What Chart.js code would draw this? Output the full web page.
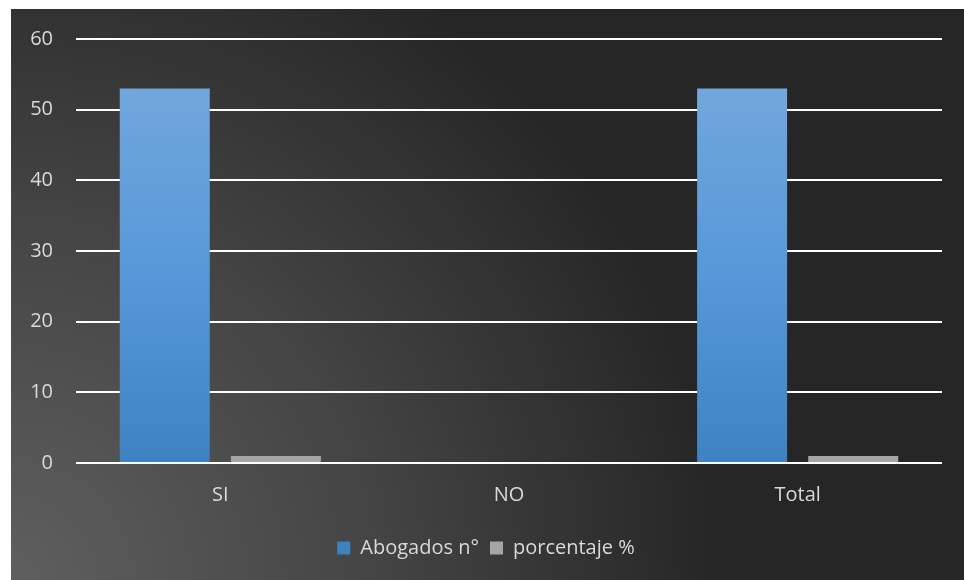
<!DOCTYPE html>
<html lang="es">
<head>
  <meta charset="UTF-8" />
  <title>Abogados</title>
  <script src="https://cdn.jsdelivr.net/npm/chart.js"></script>
  <style>
    html, body {
      margin: 0;
      padding: 0;
      background: #fff;
    }
    #chart-container {
      position: absolute;
      left: 11px;
      top: 9px;
      width: 953px;
      height: 571px;
      background: radial-gradient(circle at 0% 100%, #5f5f5f 0%, #454545 32%, #262626 64%);
    }
  </style>
</head>
<body>
  <div id="chart-container">
    <canvas id="chart" width="953" height="571"></canvas>
  </div>

  <script>
    const categories = ['SI', 'NO', 'Total'];
    const abogados = [53, 0, 53];
    const porcentaje = [1, 0, 1];
    const yTicks = [0, 10, 20, 30, 40, 50, 60];

    const FONT = { family: "'Open Sans', sans-serif", size: 20 };
    const TEXT = '#d9d9d9';

    function blueGradient(ctx) {
      const chart = ctx.chart;
      const area = chart.chartArea;
      if (!area) return '#5b9bd5';
      const y = chart.scales.y;
      const top = y.getPixelForValue(ctx.raw || 0);
      const bottom = y.getPixelForValue(0);
      if (bottom - top < 1) return '#5b9bd5';
      const g = chart.ctx.createLinearGradient(0, top, 0, bottom);
      g.addColorStop(0, '#71a7dc');
      g.addColorStop(0.5, '#5698d8');
      g.addColorStop(1, '#3f82c1');
      return g;
    }

    new Chart(document.getElementById('chart'), {
      type: 'bar',
      data: {
        labels: categories,
        datasets: [
          {
            label: 'Abogados n°',
            data: abogados,
            backgroundColor: blueGradient,
            borderWidth: 0,
            categoryPercentage: 0.77,
            barPercentage: 0.81
          },
          {
            label: 'porcentaje %',
            data: porcentaje,
            backgroundColor: '#a5a5a5',
            borderWidth: 0,
            categoryPercentage: 0.77,
            barPercentage: 0.81
          }
        ]
      },
      options: {
        responsive: false,
        animation: false,
        layout: { padding: { top: 30, right: 22, left: 19, bottom: 12 } },
        scales: {
          x: {
            grid: { display: false, drawTicks: false },
            border: { display: false },
            ticks: { color: TEXT, font: FONT, padding: 20 }
          },
          y: {
            min: 0,
            max: 60,
            afterBuildTicks: axis => { axis.ticks = yTicks.map(v => ({ value: v })); },
            afterFit: axis => { axis.width = 46; },
            grid: { color: '#ffffff', lineWidth: 2, drawTicks: false },
            border: { display: false },
            ticks: { color: TEXT, font: { ...FONT, lineHeight: 0.5 }, padding: 23 }
          }
        },
        plugins: {
          legend: {
            position: 'bottom',
            labels: {
              color: TEXT,
              font: FONT,
              boxWidth: 13,
              boxHeight: 13,
              padding: 11
            }
          },
          tooltip: { enabled: false }
        }
      }
    });
  </script>
</body>
</html>
